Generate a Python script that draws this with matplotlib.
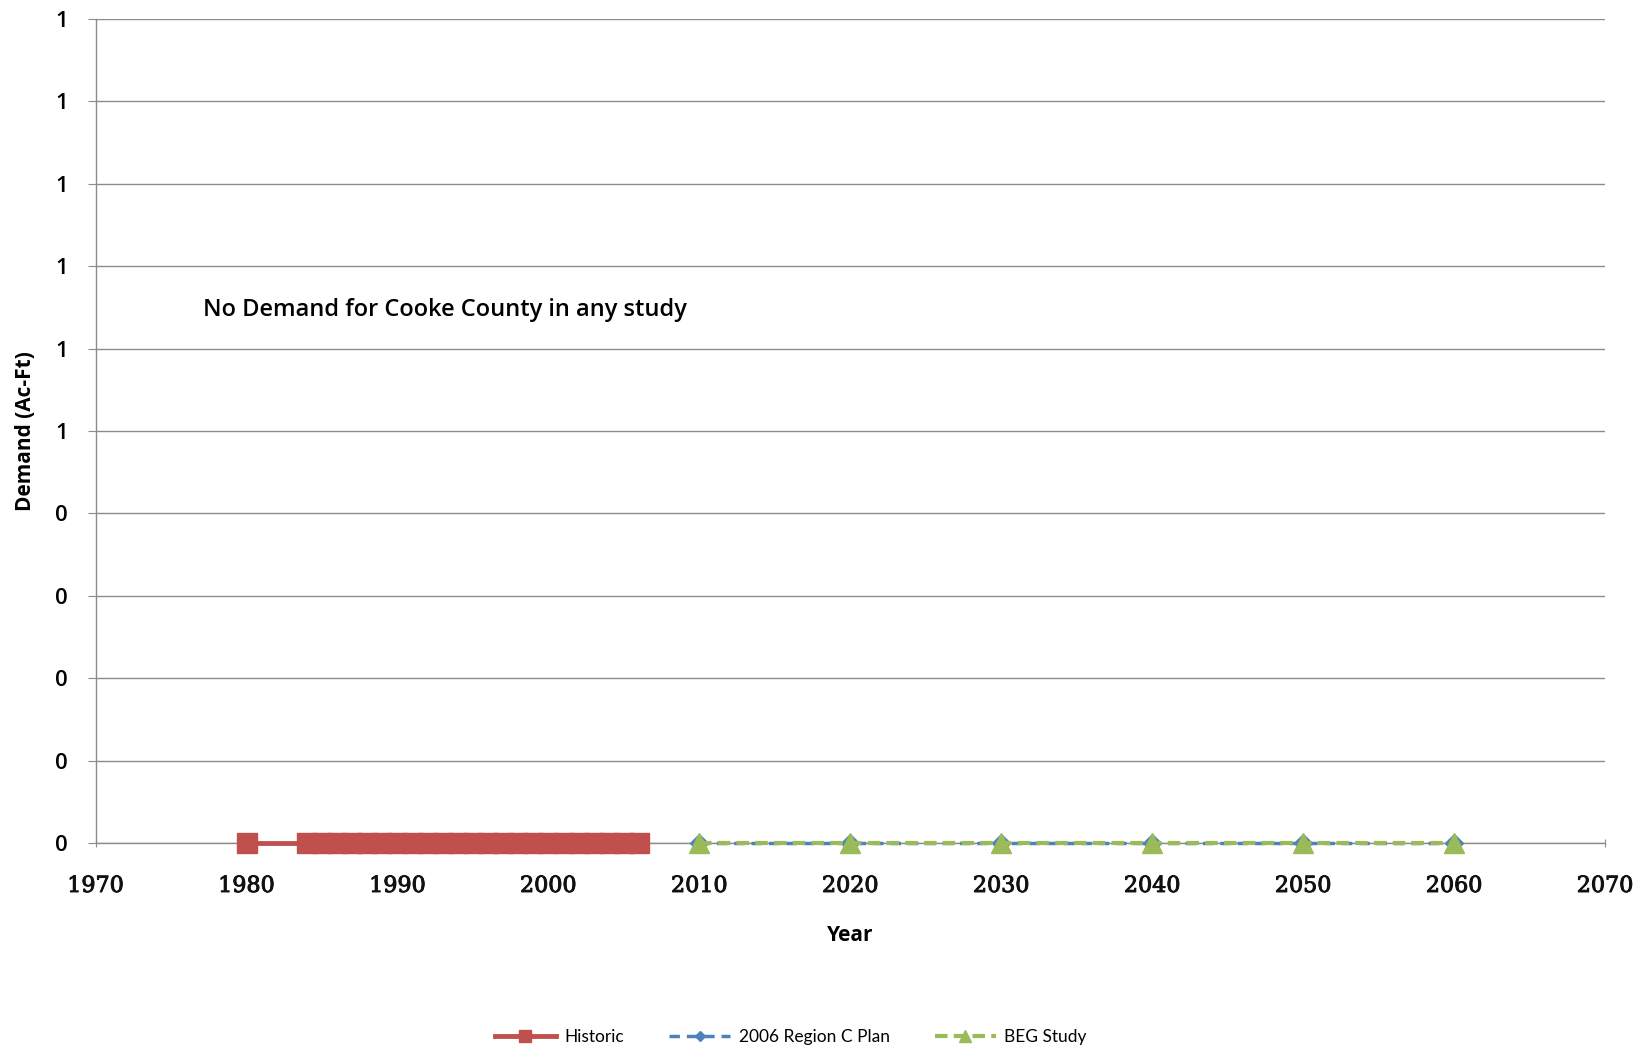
import math
import matplotlib
matplotlib.use("Agg")
import matplotlib.pyplot as plt
import matplotlib.patheffects as pe
from matplotlib.ticker import FuncFormatter, MultipleLocator

# Demand series (Ac-Ft)
historic_years = [1980] + list(range(1984, 2007))
historic_values = [0] * len(historic_years)
plan_years = [2010, 2020, 2030, 2040, 2050, 2060]
plan_values = [0, 0, 0, 0, 0, 0]
beg_years = [2010, 2020, 2030, 2040, 2050, 2060]
beg_values = [0, 0, 0, 0, 0, 0]

x_ticks = list(range(1970, 2071, 10))
note = "No Demand for Cooke County in any study"

fig = plt.figure(figsize=(16.48, 10.53), dpi=100)
ax = fig.add_axes([0.058, 0.1994, 0.916, 0.7826])

grid_c = "#8c8c8c"
ax.set_xlim(1970, 2070)
ax.set_ylim(0, 1.0)
ax.yaxis.set_major_locator(MultipleLocator(0.1))
ax.set_xticks(x_ticks)
ax.yaxis.set_major_formatter(FuncFormatter(lambda v, p: str(int(math.floor(v + 0.5 + 1e-9)))))
ax.grid(axis="y", color=grid_c, linewidth=1.0)
ax.set_axisbelow(True)
for s in ("top", "right"):
    ax.spines[s].set_visible(False)
for s in ("left", "bottom"):
    ax.spines[s].set_color(grid_c)
    ax.spines[s].set_linewidth(1.0)
ax.tick_params(axis="y", length=6, color=grid_c, direction="out", pad=14)
ax.tick_params(axis="x", length=6, color=grid_c, direction="inout", pad=20)

for lbl in ax.get_xticklabels():
    lbl.set_family("DejaVu Serif")
    lbl.set_fontsize(16)
    lbl.set_color("#111111")
    lbl.set_path_effects([pe.withStroke(linewidth=0.7, foreground="#111111")])
for lbl in ax.get_yticklabels():
    lbl.set_family("Open Sans")
    lbl.set_fontweight("semibold")
    lbl.set_fontsize(16)

# Historic: first year alone, then continuous run
ax.plot(historic_years, historic_values, color="#C0504D", linewidth=3.5,
        marker="s", markersize=14, markeredgecolor="#C0504D", clip_on=False, zorder=3,
        label="Historic")
ax.plot(plan_years, plan_values, color="#4F81BD", linewidth=2.5, linestyle=(0, (3, 2)),
        marker="D", markersize=9, clip_on=False, zorder=4, label="2006 Region C Plan")
ax.plot(beg_years, beg_values, color="#9BBB59", linewidth=3, linestyle=(0, (3, 1.5)),
        marker="^", markersize=15, clip_on=False, zorder=5, label="BEG Study")

ax.text(1977.1, 0.647, note, fontsize=17, fontfamily="Open Sans", fontweight="semibold",
        va="center", ha="left")

ax.set_xlabel("Year", fontsize=15, fontfamily="Open Sans", fontweight="bold", labelpad=20)
ax.set_ylabel("Demand (Ac-Ft)", fontsize=15, fontfamily="Open Sans", fontweight="bold", labelpad=14)

leg = fig.legend(loc="center", bbox_to_anchor=(0.48, 0.0155), ncol=3, frameon=False,
                 prop={"family": "Lato", "size": 12.5}, handlelength=3.5, columnspacing=2.6,
                 handletextpad=0.5, markerscale=0.6)

fig.savefig("out.png", dpi=100)
